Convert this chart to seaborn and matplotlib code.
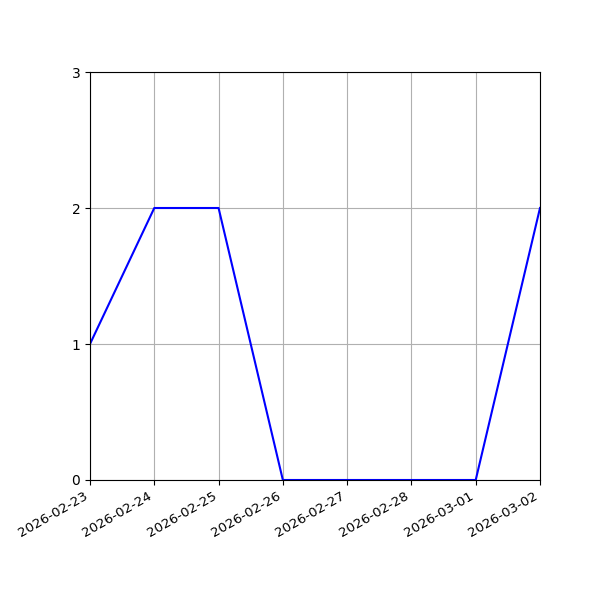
import matplotlib
matplotlib.use("Agg")
import matplotlib.pyplot as plt
import matplotlib.dates as mdates
import seaborn as sns
import pandas as pd

dates = ["2026-02-23", "2026-02-24", "2026-02-25", "2026-02-26",
         "2026-02-27", "2026-02-28", "2026-03-01", "2026-03-02"]
counts = [1, 2, 2, 0, 0, 0, 0, 2]
yticks = [0, 1, 2, 3]

df = pd.DataFrame({"date": pd.to_datetime(dates), "count": counts})

fig, ax = plt.subplots(figsize=(6, 6), dpi=100)
sns.lineplot(data=df, x="date", y="count", ax=ax, color="blue", linewidth=1.5)
ax.set_xlim(df["date"].iloc[0], df["date"].iloc[-1])
ax.set_ylim(yticks[0], yticks[-1])
ax.set_yticks(yticks)
ax.xaxis.set_major_locator(mdates.DayLocator())
ax.xaxis.set_major_formatter(mdates.DateFormatter("%Y-%m-%d"))
ax.set_xlabel("")
ax.set_ylabel("")
ax.grid(True)
for lbl in ax.get_xticklabels():
    lbl.set_rotation(30)
    lbl.set_ha("right")
    lbl.set_fontsize(9.6)
fig.subplots_adjust(left=0.15, bottom=0.2, right=0.9, top=0.88)
fig.savefig("out.png", dpi=100)
